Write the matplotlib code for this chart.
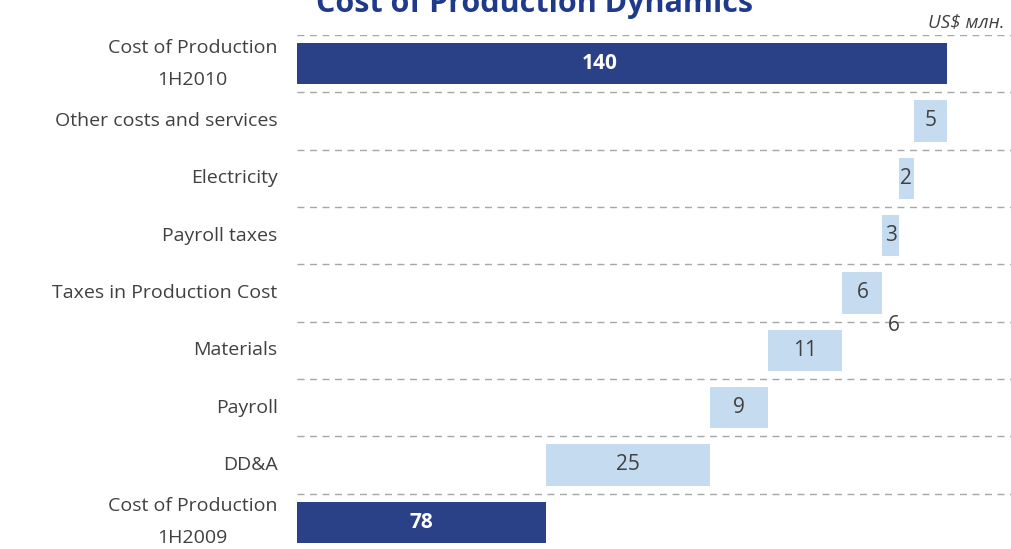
import matplotlib
matplotlib.use('Agg')
import matplotlib.pyplot as plt
import numpy as np

# Data (US$ mln)
categories = ['Cost of Production\n1H2009', 'DD&A', 'Payroll', 'Materials',
              'Taxes in Production Cost', 'Payroll taxes', 'Electricity',
              'Other costs and services', 'Cost of Production\n1H2010']
start_value = 78
end_value = 140
deltas = [25.3, 9.1, 11.4, 6.2, 2.6, 2.2, 5.2]

plt.rcParams['font.family'] = ['Open Sans', 'DejaVu Sans']

dark = '#2A4087'
light = '#C5DCF0'
text_col = '#404040'
x_min, x_max = 39.6, 150

fig = plt.figure(figsize=(10.12, 5.49), dpi=100)
ax = fig.add_axes([297 / 1012, -2 / 549, 715 / 1012, 516 / 549])

y = np.arange(len(categories))
lefts = np.concatenate([[0], start_value + np.cumsum([0] + deltas[:-1]), [0]])
widths = np.concatenate([[start_value], deltas, [end_value]])
colors = [dark] + [light] * len(deltas) + [dark]

ax.barh(y, widths, left=lefts, height=0.72, color=colors, zorder=2)

# value labels
ax.text((x_min + start_value) / 2, 0, f"{start_value}", ha='center', va='center',
        color='white', fontsize=15, fontweight='bold')
ax.text(86.3, len(categories) - 1, f"{end_value}", ha='center', va='center',
        color='white', fontsize=15, fontweight='bold')
for i in range(1, len(categories) - 1):
    ax.text(lefts[i] + widths[i] / 2, i, f"{widths[i]:.0f}", ha='center', va='center',
            color=text_col, fontsize=15)

# stray label under the taxes bar
tax_i = categories.index('Taxes in Production Cost')
ax.annotate(f"{deltas[tax_i - 1]:.0f}", (lefts[tax_i] + widths[tax_i], tax_i - 0.57),
            xytext=(8, 0), textcoords='offset points', ha='center', va='center',
            color=text_col, fontsize=15)

# dashed separators between categories
for k in range(len(categories) + 1):
    ax.axhline(k - 0.5, color='#A6A6A6', linestyle=(0, (5, 4)), linewidth=1, zorder=1)

ax.set_xlim(x_min, x_max)
ax.set_ylim(-0.5, len(categories) - 0.5)
ax.set_yticks(y)
ax.set_yticklabels(categories, fontsize=14, color=text_col, linespacing=2.0,
                   multialignment='center')
for lbl in ax.get_yticklabels():
    lbl.set_va('center')
ax.tick_params(axis='y', length=0, pad=14)
ax.set_xticks([])
for s in ax.spines.values():
    s.set_visible(False)

fig.text(0.528, 1 - 12 / 549, 'Cost of Production Dynamics', ha='center', va='baseline',
         fontsize=22, fontweight='bold', color='#1F3A8A')
fig.text(1005 / 1012, 1 - 22 / 549, 'US$ млн.', ha='right', va='center',
         fontsize=13.5, style='italic', color=text_col)

fig.savefig('out.png', dpi=100)
